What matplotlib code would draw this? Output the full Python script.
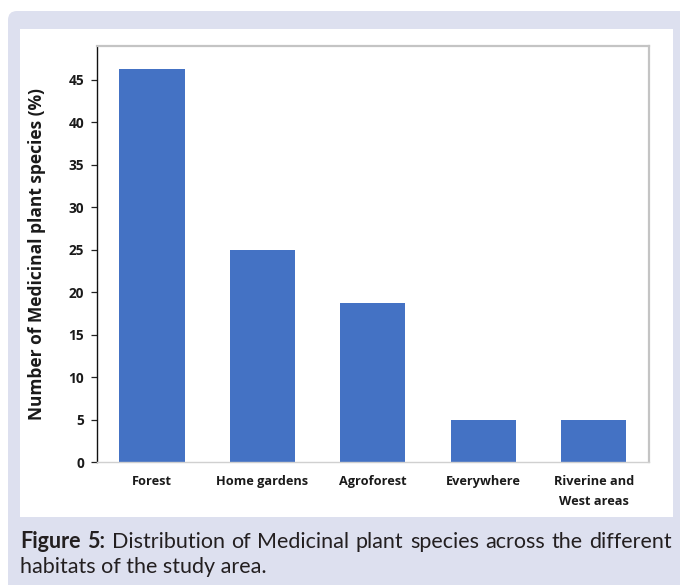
import matplotlib.pyplot as plt
from matplotlib.patches import FancyBboxPatch, Rectangle

# Habitat categories and share of medicinal plant species (%)
habitats = ['Forest', 'Home gardens', 'Agroforest', 'Everywhere', 'Riverine and\nWest areas']
species_pct = [46.25, 25.0, 18.75, 5.0, 5.0]
y_ticks = [0, 5, 10, 15, 20, 25, 30, 35, 40, 45]

caption_bold = 'Figure 5:'
caption_line1 = 'Distribution of Medicinal plant species across the different'
caption_line2 = 'habitats of the study area.'

W, H = 680, 585
fig = plt.figure(figsize=(W / 100, H / 100), dpi=100)
fig.patch.set_facecolor('white')

# background layer in pixel units (origin top-left)
bg = fig.add_axes([0, 0, 1, 1], zorder=0)
bg.set_xlim(0, W)
bg.set_ylim(H, 0)
bg.axis('off')
bg.add_patch(FancyBboxPatch((8, 11), W + 20, H + 20,
                            boxstyle='round,pad=0,rounding_size=9',
                            facecolor='#dde0ef', edgecolor='none'))
bg.add_patch(Rectangle((20, 29), 653, 488, facecolor='white', edgecolor='none'))

# bar chart
ax = fig.add_axes([96.7 / W, (H - 462) / H, (649 - 96.7) / W, (462 - 45.7) / H], zorder=1)
ax.bar(range(len(habitats)), species_pct, width=0.59, color='#4472c4', zorder=2)
ax.set_xlim(-0.5, len(habitats) - 0.5)
ax.set_ylim(0, 49)
ax.set_yticks(y_ticks)
ax.set_xticks(range(len(habitats)))
ax.set_xticklabels(habitats, fontsize=9.2, fontweight='bold', family='Open Sans',
                   linespacing=1.65, color='#1a1a1a')
for lab in ax.get_yticklabels():
    lab.set_fontsize(9.8)
    lab.set_fontweight('bold')
    lab.set_family('Open Sans')
    lab.set_color('#1a1a1a')
ax.tick_params(axis='x', length=0, pad=9.5)
ax.tick_params(axis='y', length=4, width=0.9, pad=5, color='#222222')
ax.spines['left'].set_color('#111111')
ax.spines['left'].set_linewidth(1.0)
ax.spines['bottom'].set_color('#d0d0d0')
ax.spines['bottom'].set_linewidth(1.0)
for side in ('top', 'right'):
    ax.spines[side].set_color('#c4c4c4')
    ax.spines[side].set_linewidth(1.6)

ax.set_ylabel('Number of Medicinal plant species (%)', fontsize=12.5, fontweight='bold',
              family='Open Sans', color='#1a1a1a')
ax.yaxis.set_label_coords((37.5 - 96.7) / (649 - 96.7), 0.5)
ax.yaxis.label.set_va('center')

# caption, first line justified across the panel
fig.canvas.draw()
renderer = fig.canvas.get_renderer()
cap_style = dict(fontsize=15.5, family='Lato', color='#231f20', va='baseline', ha='left')
words = [(w, 'bold') for w in caption_bold.split()] + [(w, 'normal') for w in caption_line1.split()]
texts = [bg.text(0, 548, w, fontweight=fw, **cap_style) for w, fw in words]
widths = [t.get_window_extent(renderer).width for t in texts]
left, right = 20, 672
gap = (right - left - sum(widths)) / (len(texts) - 1)
x = left
for t, w in zip(texts, widths):
    t.set_x(x)
    x += w + gap
bg.text(left, 573, caption_line2, fontweight='normal', **cap_style)

fig.savefig('out.png', dpi=100)
